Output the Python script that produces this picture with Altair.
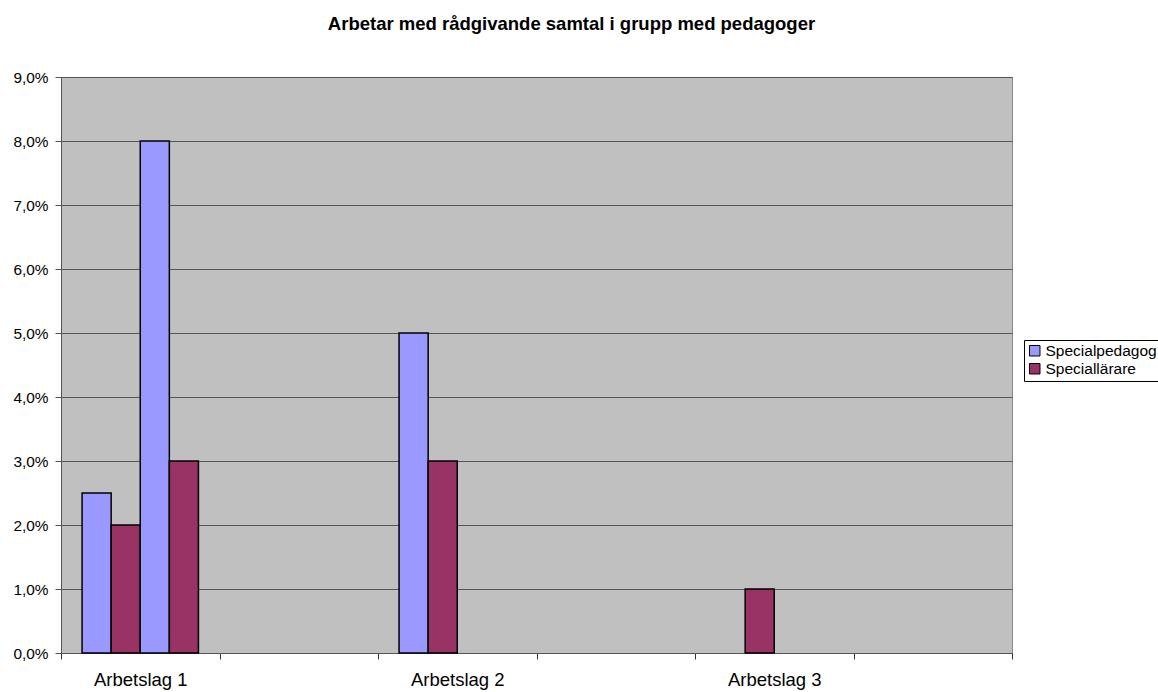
import altair as alt
import pandas as pd

# Categories along the x axis (only every other slot carries a name)
categories = ["Arbetslag 1", " ", "Arbetslag 2", "  ", "Arbetslag 3", "   "]

# Series values in percent, one list per bar slot within each category
series_names = ["Specialpedagog", "Speciallärare", "Specialpedagog", "Speciallärare"]
series_slots = ["1", "2", "3", "4"]
values = [
    [2.5, None, 5.0, None, None, None],
    [2.0, None, 3.0, None, 1.0, None],
    [8.0, None, None, None, None, None],
    [3.0, None, None, None, None, None],
]

legend_names = ["Specialpedagog", "Speciallärare"]
legend_colors = ["#9999FF", "#993366"]
y_ticks = [0, 1, 2, 3, 4, 5, 6, 7, 8, 9]

rows = []
for name, slot, vals in zip(series_names, series_slots, values):
    for cat, v in zip(categories, vals):
        if v is not None:
            rows.append({"kategori": cat, "serie": name, "plats": slot, "andel": v})
df = pd.DataFrame(rows)

W, H = 951, 576
FONT = "Liberation Sans"

bars = alt.Chart(df).mark_bar(stroke="black", strokeWidth=1.5).encode(
    x=alt.X(
        "kategori:N",
        sort=categories,
        scale=alt.Scale(domain=categories, paddingInner=0, paddingOuter=0),
        axis=alt.Axis(
            title=None,
            labelAngle=0,
            tickBand="extent",
            tickSize=6,
            tickColor="#333333",
            domainColor="#555555",
            labelFontSize=18.5,
            labelPadding=11,
            labelColor="black",
        ),
    ),
    xOffset=alt.XOffset(
        "plats:N",
        scale=alt.Scale(domain=series_slots, paddingInner=0, paddingOuter=0.724),
    ),
    y=alt.Y(
        "andel:Q",
        scale=alt.Scale(domain=[0, 9], nice=False),
        axis=alt.Axis(
            title=None,
            values=y_ticks,
            labelExpr="replace(format(datum.value, '.1f'), '.', ',') + '%'",
            grid=True,
            gridColor="#555555",
            gridWidth=1.2,
            domainColor="#555555",
            tickColor="#555555",
            tickSize=6,
            labelFontSize=15.4,
            labelPadding=7,
            labelColor="black",
        ),
    ),
    color=alt.Color(
        "serie:N",
        scale=alt.Scale(domain=legend_names, range=legend_colors),
        legend=alt.Legend(
            title=None,
            orient="none",
            legendX=963,
            legendY=263,
            strokeColor="black",
            fillColor="white",
            padding=3,
            symbolType="square",
            symbolSize=110,
            symbolStrokeColor="black",
            symbolStrokeWidth=1,
            symbolOpacity=1,
            labelFontSize=15.5,
            labelColor="black",
            labelLimit=400,
            rowPadding=1,
            labelOffset=3,
        ),
    ),
)

chart = bars.properties(
    width=W,
    height=H,
    title=alt.TitleParams(
        "Arbetar med rådgivande samtal i grupp med pedagoger",
        fontSize=18.5,
        fontWeight="bold",
        anchor="middle",
        dx=35,
        offset=37,
        color="black",
    ),
    autosize=alt.AutoSizeParams(type="none"),
    padding={"left": 61, "top": 77, "right": 146, "bottom": 39},
).configure(
    font=FONT,
    background="white",
).configure_view(
    fill="#C0C0C0",
    stroke="#888888",
    strokeWidth=1,
)

chart.save("out.html", embed_options={"renderer": "svg", "actions": False})
